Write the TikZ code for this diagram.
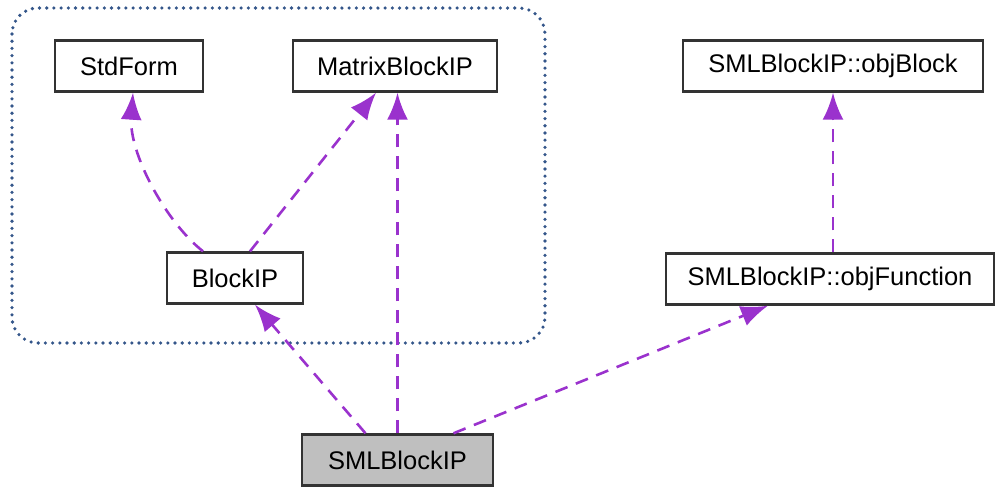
\documentclass[tikz,border=0pt]{standalone}
\usepackage{fontspec}
\setmainfont{Liberation Sans}
\usetikzlibrary{arrows.meta}
\definecolor{edgec}{HTML}{9A32CD}
\definecolor{boxc}{HTML}{333333}
\definecolor{grpc}{HTML}{34568A}
\definecolor{fillg}{HTML}{BFBFBF}
\begin{document}
\begin{tikzpicture}[x=1pt,y=-1pt,
  cls/.style={draw=boxc,line width=2.4pt,fill=white,inner sep=0pt,minimum height=51pt,font=\fontsize{25.5}{28}\selectfont},
  dep/.style={draw=edgec,line width=2.6pt,dash pattern=on 13pt off 9pt,-{Latex[length=27pt,width=21pt]}},
  grp/.style={draw=grpc,line width=3.6pt,line cap=round,dash pattern=on 0pt off 7.2pt,rounded corners=26pt}]
\useasboundingbox (0,0) rectangle (996,488);
\draw[grp] (12,8) rectangle (545,343);
\node[cls,minimum width=148pt] (stdform) at (129,66) {StdForm};
\node[cls,minimum width=204pt] (matrix) at (395,66) {MatrixBlockIP};
\node[cls,minimum width=300pt] (objblock) at (833,66) {SMLBlockIP::objBlock};
\node[cls,minimum width=136pt] (blockip) at (235,278) {BlockIP};
\node[cls,minimum width=328pt] (objfun) at (830,279) {SMLBlockIP::objFunction};
\node[cls,minimum width=191pt,fill=fillg] (sml) at (397.5,460) {SMLBlockIP};
\draw[dep] ([xshift=-32pt]blockip.north) .. controls +(-38,-30) and +(-4,60) .. ([xshift=4pt]stdform.south);
\draw[dep] ([xshift=15pt]blockip.north) -- ([xshift=-19pt]matrix.south);
\draw[dep] (sml.north) -- (sml.north |- matrix.south);
\draw[dep] ([xshift=-32pt]sml.north) -- ([xshift=20pt]blockip.south);
\draw[dep] ([xshift=56pt]sml.north) -- ([xshift=-62pt]objfun.south);
\draw[dep] ([xshift=3pt]objfun.north) -- ([xshift=0pt]objblock.south);
\end{tikzpicture}
\end{document}
